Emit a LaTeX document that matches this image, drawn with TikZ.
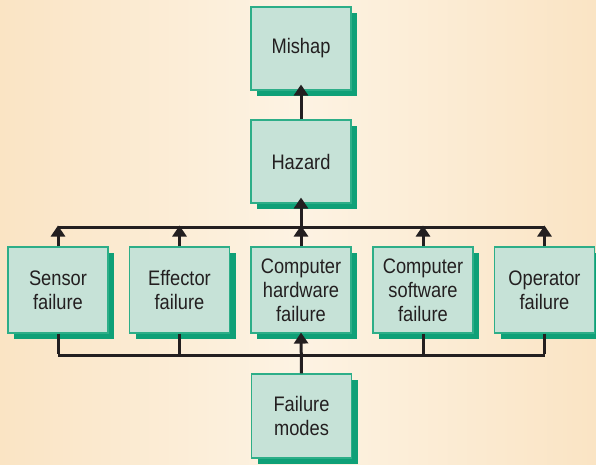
\documentclass[tikz,border=0pt]{standalone}
\usepackage{fontspec}
\setmainfont{Liberation Sans}[FakeStretch=0.87]
\usetikzlibrary{arrows.meta,shadows}
\definecolor{bgedge}{HTML}{FAE4C4}
\definecolor{bgmid}{HTML}{FDF3E3}
\definecolor{boxfill}{HTML}{C6E2D7}
\definecolor{boxline}{HTML}{2DAE88}
\definecolor{shadowc}{HTML}{0FA077}
\definecolor{txt}{HTML}{231F20}
\tikzset{
  fbox/.style={draw=boxline, line width=1.1pt, fill=boxfill, minimum width=100pt,
    minimum height=84pt, inner sep=0pt, align=center, text=txt,
    font=\fontsize{21}{24}\selectfont,
    drop shadow={shadow xshift=6pt, shadow yshift=-6pt, fill=shadowc, opacity=1}},
  conn/.style={line width=3pt, draw=txt},
  arr/.style={conn, -{Triangle[width=14pt,length=11pt]}}
}
\begin{document}
\begin{tikzpicture}[x=1pt,y=-1pt]
\shade[left color=bgedge, right color=bgedge, middle color=bgmid] (0,0) rectangle (596,465);
\useasboundingbox (0,0) rectangle (596,465);
\begin{scope}
\clip (0,0) rectangle (596,465);
\node[fbox, minimum height=83pt] (mishap) at (301,48.5) {Mishap};
\node[fbox, minimum height=83pt] (hazard) at (301,161.5) {Hazard};
\node[fbox, minimum height=86pt] (sensor) at (58,290) {Sensor\\failure};
\node[fbox, minimum height=86pt] (effector) at (179.5,290) {Effector\\failure};
\node[fbox, minimum height=86pt] (hw) at (301,290) {Computer\\hardware\\failure};
\node[fbox, minimum height=86pt] (sw) at (423,290) {Computer\\software\\failure};
\node[fbox, minimum height=86pt] (op) at (544.5,290) {Operator\\failure};
\node[fbox] (fm) at (301.5,416) {Failure\\modes};
\end{scope}
\coordinate (topL) at (sensor.north |- 0,227);
\coordinate (topR) at (op.north |- 0,227);
\coordinate (botL) at (sensor.south |- 0,355);
\coordinate (botR) at (op.south |- 0,355);
\draw[conn] (topL) -- (topR);
\draw[conn] (botL) -- (botR);
\foreach \n in {sensor,effector,hw,sw,op}{
  \draw[arr] (\n.north) -- ([yshift=1.5pt]\n.north |- topL);
}
\foreach \n in {sensor,effector,sw,op}{
  \draw[conn] (\n.south) -- ([yshift=1.5pt]\n.south |- botL);
}
\draw[arr] (hazard.south |- topL) -- ([yshift=6pt]hazard.south);
\draw[arr] (hazard.north) -- ([yshift=6pt]mishap.south);
\draw[arr] (fm.north) -- ([yshift=1pt]hw.south);
\end{tikzpicture}
\end{document}
